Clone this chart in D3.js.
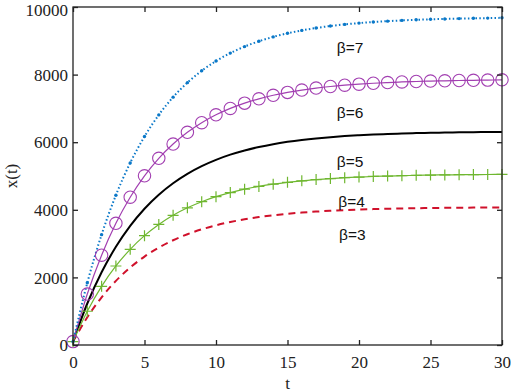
<!DOCTYPE html>
<html>
<head>
<meta charset="utf-8">
<script src="https://d3js.org/d3.v7.min.js"></script>
<style>
  body { margin: 0; background: #fff; }
</style>
</head>
<body>
<div id="chart"></div>
<script>
// values, t = 0..30
var t = d3.range(0, 31);
var beta7 = [100, 1840, 3265, 4432, 5387, 6168, 6808, 7333, 7762, 8113, 8401, 8636, 8829, 8987, 9116, 9222,
             9308, 9379, 9438, 9485, 9524, 9556, 9582, 9603, 9621, 9636, 9647, 9657, 9665, 9671, 9680];
var beta6 = [100, 1507, 2658, 3601, 4373, 5005, 5523, 5946, 6293, 6577, 6810, 7000, 7156, 7283, 7388, 7474,
             7543, 7601, 7648, 7686, 7718, 7744, 7765, 7782, 7796, 7808, 7817, 7825, 7831, 7837, 7845];
var beta5 = [100, 1228, 2151, 2906, 3525, 4032, 4447, 4786, 5064, 5292, 5478, 5631, 5756, 5858, 5942, 6010,
             6066, 6112, 6150, 6181, 6206, 6227, 6243, 6257, 6269, 6278, 6286, 6292, 6297, 6301, 6304];
var beta4 = [100, 999, 1735, 2338, 2831, 3235, 3566, 3837, 4059, 4240, 4389, 4510, 4610, 4691, 4758, 4813,
             4858, 4894, 4925, 4949, 4969, 4986, 4999, 5010, 5019, 5027, 5033, 5038, 5042, 5045, 5048];
var beta3 = [100, 822, 1412, 1896, 2292, 2616, 2881, 3099, 3276, 3422, 3542, 3639, 3719, 3784, 3838, 3882,
             3918, 3947, 3971, 3991, 4007, 4020, 4031, 4040, 4047, 4053, 4058, 4062, 4065, 4068, 4070];
var xTicks = [0, 5, 10, 15, 20, 25, 30];
var yTicks = [0, 2000, 4000, 6000, 8000, 10000];
var labels = [
  {text: "β=7", t: 18.45, v: 8640},
  {text: "β=6", t: 18.45, v: 6710},
  {text: "β=5", t: 18.45, v: 5275},
  {text: "β=4", t: 18.55, v: 4090},
  {text: "β=3", t: 18.6, v: 3110}
];

var W = 512, H = 392;
var m = {left: 73, right: 10, top: 7, bottom: 47};
var w = W - m.left - m.right, h = H - m.top - m.bottom;
var serif = "Liberation Serif";
var sans = "Liberation Sans";

var svg = d3.select("#chart").append("svg")
    .attr("width", W).attr("height", H);
var g = svg.append("g").attr("transform", "translate(" + m.left + "," + m.top + ")");

var xs = d3.scaleLinear().domain([0, 30]).range([0, w]);
var ys = d3.scaleLinear().domain([0, 10000]).range([h, 0]);

var line = function(vals) {
  return d3.line()
    .x(function(d, i) { return xs(t[i]); })
    .y(function(d) { return ys(d); })
    .curve(d3.curveMonotoneX)(vals);
};

// curves
g.append("path").attr("d", line(beta3)).attr("fill", "none")
  .attr("stroke", "#d0112b").attr("stroke-width", 2).attr("stroke-dasharray", "7,5");
g.append("path").attr("d", line(beta5)).attr("fill", "none")
  .attr("stroke", "#000").attr("stroke-width", 2);
g.append("path").attr("d", line(beta4)).attr("fill", "none")
  .attr("stroke", "#6fb730").attr("stroke-width", 1.2);
g.append("path").attr("d", line(beta6)).attr("fill", "none")
  .attr("stroke", "#a23fb1").attr("stroke-width", 1.2);
g.append("path").attr("d", line(beta7)).attr("fill", "none")
  .attr("stroke", "#0a78c8").attr("stroke-width", 2).attr("stroke-dasharray", "1.5,2.3");

// markers
g.selectAll(".plus").data(beta4).enter().append("path")
  .attr("d", function(d, i) {
    var x = xs(t[i]), y = ys(d), s = 5.5;
    return "M" + (x - s) + "," + y + "H" + (x + s) + "M" + x + "," + (y - s) + "V" + (y + s);
  })
  .attr("stroke", "#6fb730").attr("stroke-width", 1.2);
g.selectAll(".circ").data(beta6).enter().append("circle")
  .attr("cx", function(d, i) { return xs(t[i]); })
  .attr("cy", function(d) { return ys(d); })
  .attr("r", 6.2).attr("fill", "none")
  .attr("stroke", "#a23fb1").attr("stroke-width", 1.1);
g.selectAll(".dot").data(beta7).enter().append("circle")
  .attr("cx", function(d, i) { return xs(t[i]); })
  .attr("cy", function(d) { return ys(d); })
  .attr("r", 1.7).attr("fill", "#0a78c8");

// box and ticks
g.append("rect").attr("width", w).attr("height", h)
  .attr("fill", "none").attr("stroke", "#222").attr("stroke-width", 1.3);

var ax = g.append("g").attr("transform", "translate(0," + h + ")")
  .call(d3.axisBottom(xs).tickValues(xTicks).tickSize(-5).tickPadding(11).tickFormat(d3.format("d")));
var axTop = g.append("g")
  .call(d3.axisTop(xs).tickValues(xTicks).tickSize(-5).tickFormat(""));
var ay = g.append("g")
  .call(d3.axisLeft(ys).tickValues(yTicks).tickSize(-5).tickPadding(10).tickFormat(d3.format("d")));
var ayR = g.append("g").attr("transform", "translate(" + w + ",0)")
  .call(d3.axisRight(ys).tickValues(yTicks).tickSize(-5).tickFormat(""));

[ax, axTop, ay, ayR].forEach(function(a) {
  a.select(".domain").remove();
  a.selectAll("line").attr("stroke", "#222").attr("stroke-width", 1.3);
  a.selectAll("text").attr("fill", "#222")
    .attr("font-family", serif).attr("font-size", 17);
});
ay.selectAll("text").attr("x", -5)
  .attr("dy", function(d) { return d === 10000 ? "0.52em" : "0.34em"; });

// axis titles
g.append("text").attr("x", w / 2).attr("y", h + 44)
  .attr("text-anchor", "middle").attr("fill", "#222")
  .attr("font-family", serif).attr("font-size", 17).text("t");
g.append("text").attr("transform", "translate(" + (-56) + "," + (h / 2) + ") rotate(-90)")
  .attr("text-anchor", "middle").attr("fill", "#222")
  .attr("font-family", serif).attr("font-size", 17).text("x(t)");

// curve labels
g.selectAll(".lab").data(labels).enter().append("text")
  .attr("x", function(d) { return xs(d.t); })
  .attr("y", function(d) { return ys(d.v); })
  .attr("fill", "#111")
  .attr("font-family", sans).attr("font-size", 15.5)
  .text(function(d) { return d.text; });
</script>
</body>
</html>
